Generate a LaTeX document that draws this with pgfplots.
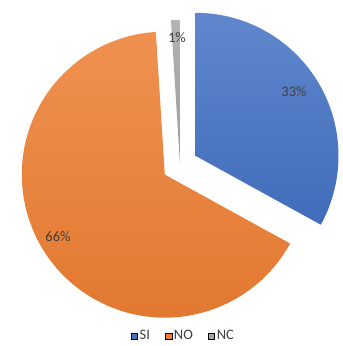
\documentclass[border=0pt]{standalone}
\usepackage{pgfplots}
\pgfplotsset{compat=1.18}
\usepackage{pgfplotstable}
\usepackage{fontspec}
\setmainfont{Carlito}
\definecolor{cSI}{HTML}{4472C4}
\definecolor{cNO}{HTML}{ED7D31}
\definecolor{cNC}{HTML}{A5A5A5}
\definecolor{lab}{HTML}{404040}

\pgfplotstableread{
name value explode
SI 33 18
NO 66 18
NC 1 2
}\piedata

\pgfplotstablegetelem{0}{value}\of\piedata \let\vA\pgfplotsretval
\pgfplotstablegetelem{1}{value}\of\piedata \let\vB\pgfplotsretval
\pgfplotstablegetelem{2}{value}\of\piedata \let\vC\pgfplotsretval
\pgfplotstablegetelem{0}{explode}\of\piedata \let\xA\pgfplotsretval
\pgfplotstablegetelem{1}{explode}\of\piedata \let\xB\pgfplotsretval
\pgfplotstablegetelem{2}{explode}\of\piedata \let\xC\pgfplotsretval

\pgfmathsetmacro\sA{90}
\pgfmathsetmacro\eA{\sA-3.6*\vA}
\pgfmathsetmacro\sB{\eA}
\pgfmathsetmacro\eB{\sB-3.6*\vB}
\pgfmathsetmacro\sC{\eB}
\pgfmathsetmacro\eC{\sC-3.6*\vC}
\pgfmathsetmacro\mA{(\sA+\eA)/2}
\pgfmathsetmacro\mB{(\sB+\eB)/2}
\pgfmathsetmacro\mC{(\sC+\eC)/2}
\def\cx{180}
\def\cy{181}
\def\R{143}
\newcommand\lf{\fontsize{14.5}{16}\selectfont}

\begin{document}
\begin{tikzpicture}
\begin{axis}[
  width=343pt, height=346pt, scale only axis,
  xmin=0, xmax=343, ymin=0, ymax=346,
  hide axis,
  clip=false,
  legend columns=3,
  legend style={draw=none, fill=none, at={(0.533,0.029)}, anchor=center,
    text=lab, font=\lf, inner sep=0pt,
    nodes={inner xsep=1pt, inner ysep=0pt, text=lab},
    /tikz/every even column/.append style={column sep=14pt},
    /tikz/every odd column/.append style={column sep=1pt}},
  legend image code/.code={\fill[#1] (0pt,-3.2pt) rectangle (6.5pt,3.2pt);},
]
\addlegendimage{fill=cSI}\addlegendentry{\lf SI}
\addlegendimage{fill=cNO}\addlegendentry{\lf NO}
\addlegendimage{fill=cNC}\addlegendentry{\lf NC}

\path (rel axis cs:0,0) (rel axis cs:1,1);

\shade[top color=cSI!85!white, bottom color=cSI!95!black]
  (axis cs:{\cx+\xA*cos(\mA)},{\cy+\xA*sin(\mA)}) -- ++(\sA:\R pt)
  arc[start angle=\sA, end angle=\eA, radius=\R pt] -- cycle;
\shade[top color=cNO!85!white, bottom color=cNO!95!black]
  (axis cs:{\cx+\xB*cos(\mB)},{\cy+\xB*sin(\mB)}) -- ++(\sB:\R pt)
  arc[start angle=\sB, end angle=\eB, radius=\R pt] -- cycle;
\shade[top color=cNC!85!white, bottom color=cNC!95!black]
  (axis cs:{\cx+\xC*cos(\mC)},{\cy+\xC*sin(\mC)}) -- ++(\sC:\R pt)
  arc[start angle=\sC, end angle=\eC, radius=\R pt] -- cycle;

\node[text=lab, font=\lf] at (axis cs:294,254) {\vA\%};
\node[text=lab, font=\lf] at (axis cs:58,109) {\vB\%};
\node[text=lab, font=\lf] at (axis cs:177,308) {\vC\%};
\end{axis}
\end{tikzpicture}
\end{document}
